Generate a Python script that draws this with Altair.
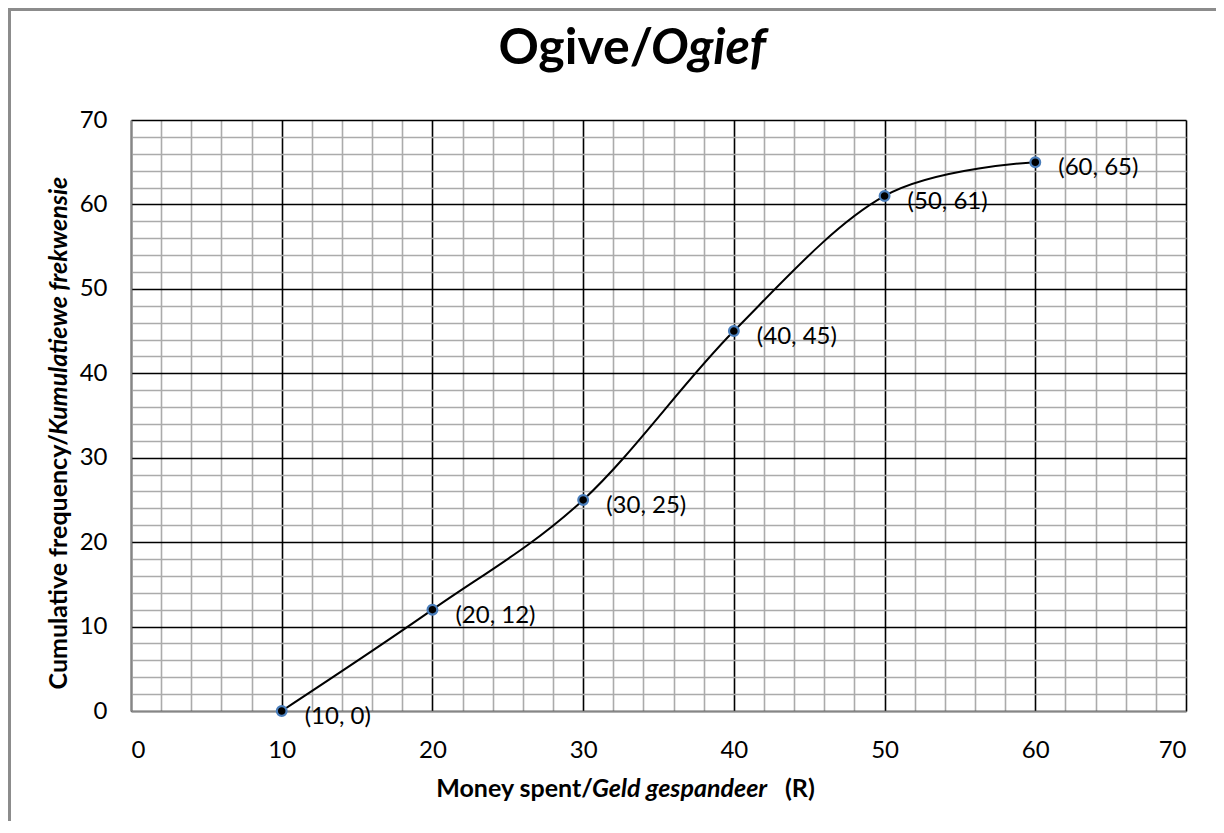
import altair as alt
import pandas as pd

# ---- data ----
money = [10, 20, 30, 40, 50, 60]
cum_freq = [0, 12, 25, 45, 61, 65]
point_labels = ["(10, 0)", "(20, 12)", "(30, 25)", "(40, 45)", "(50, 61)", "(60, 65)"]
grid_values = list(range(0, 71, 2))

df = pd.DataFrame({"money": money, "cf": cum_freq, "label": point_labels})
one = pd.DataFrame({"k": [0]})

FONT = "Lato"
W, H = 1055, 591
grid_color = {"condition": {"test": "datum.value % 10 === 0", "value": "#000000"},
              "value": "#ababab"}
label_expr = "datum.value % 10 === 0 ? datum.label : ''"


def make_axis(pad):
    return alt.Axis(values=grid_values, tickCount=40, labelExpr=label_expr, grid=True,
                    gridColor=grid_color, gridWidth=1.6, ticks=False, tickSize=0,
                    domainColor="#868686", domainWidth=1.6,
                    labelFont=FONT, labelFontSize=24, labelColor="black",
                    labelPadding=pad, labelOverlap=False, title=None)


x_enc = alt.X("money:Q", scale=alt.Scale(domain=[0, 70], nice=False), axis=make_axis(27))
y_enc = alt.Y("cf:Q", scale=alt.Scale(domain=[0, 70], nice=False), axis=make_axis(24))

base = alt.Chart(df)

line = base.mark_line(interpolate="cardinal", tension=0, color="black",
                      strokeWidth=2).encode(x=x_enc, y=y_enc)
pts = base.mark_point(filled=True, fill="black", stroke="#4a7ebb", strokeWidth=2.2,
                      size=95, opacity=1, fillOpacity=1, strokeOpacity=1).encode(
    x=x_enc, y=y_enc)
labels = base.mark_text(align="left", baseline="middle", dx=23, dy=6, fontSize=24,
                        font=FONT, color="black").encode(
    x=x_enc, y=y_enc, text="label:N")


def txt(s, xv, yv, size, align, italic=False, angle=0):
    kw = dict(text=s, font=FONT, fontSize=size, fontWeight="bold", color="black",
              align=align, baseline="alphabetic")
    if italic:
        kw["fontStyle"] = "italic"
    if angle:
        kw["angle"] = angle
    return alt.Chart(one).mark_text(**kw).encode(x=alt.value(xv), y=alt.value(yv))


title1 = txt("Ogive/", 522, -56, 50, "right")
title2 = txt("Ogief", 520, -56, 50, "left", italic=True)

xt1 = txt("Money spent/", 462, 677, 25, "right")
xt2 = txt("Geld gespandeer", 461, 677, 25, "left", italic=True)
xt3 = txt("(R)", 654, 677, 25, "left")

yt1 = txt("Cumulative frequency/", -64, 314, 25, "right", angle=270)
yt2 = txt("Kumulatiewe  frekwensie", -64, 315, 25, "left", italic=True, angle=270)

border_top = alt.Chart(one).mark_rule(color="#8c8c8c", strokeWidth=3).encode(
    x=alt.value(-123), x2=alt.value(1120), y=alt.value(-110.5))
border_left = alt.Chart(one).mark_rule(color="#8c8c8c", strokeWidth=3).encode(
    x=alt.value(-121.5), y=alt.value(-112), y2=alt.value(720))

chart = alt.layer(
    line, pts, labels, title1, title2, xt1, xt2, xt3, yt1, yt2, border_top, border_left
).properties(
    width=W, height=H,
    autosize=alt.AutoSizeParams(type="none"),
    padding={"left": 123, "top": 112, "right": 30, "bottom": 110},
    background="white",
).configure_view(stroke=None)

chart.save("out.html", embed_options={"renderer": "svg", "actions": False})
